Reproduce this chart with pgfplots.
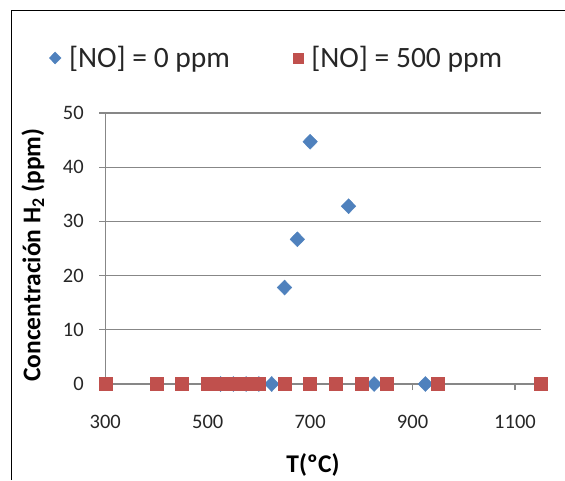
\documentclass[border=0pt]{standalone}
\usepackage{fontspec}
\setmainfont{Carlito}
\usepackage{pgfplots}
\pgfplotsset{compat=1.18}

\definecolor{serieA}{HTML}{4F81BD}
\definecolor{serieB}{HTML}{C0504D}
\definecolor{ejes}{HTML}{878787}

\begin{document}
\begin{tikzpicture}
  \begin{axis}[
    anchor=origin,
    scale only axis, width=435.3pt, height=271pt,
    xmin=300, xmax=1150, ymin=0, ymax=50,
    xtick={300,500,700,900,1100},
    ytick={0,10,20,30,40,50},
    axis x line=bottom, axis y line=left,
    axis line style={ejes, line width=1.4pt, -},
    tick style={ejes, line width=1.2pt},
    tick align=outside, major tick length=6pt,
    ymajorgrids, grid style={ejes, line width=1.2pt},
    clip=false,
    /pgf/number format/assume math mode=true,
    /pgf/number format/1000 sep={},
    ticklabel style={font=\fontsize{20.5}{24}\selectfont, text=black!85},
    xticklabel style={yshift=-22pt},
    yticklabel style={xshift=-12pt},
    xlabel={\textbf{T(ºC)}},
    ylabel={\textbf{Concentración H\textsubscript{2} (ppm)}},
    label style={font=\fontsize{25.5}{28}\selectfont},
    xlabel style={at={(axis description cs:0.477,-0.299)}, anchor=center},
    ylabel style={at={(axis description cs:-0.166,0.476)}, anchor=center},
    legend columns=2,
    legend style={draw=none, fill=none, inner sep=0pt,
      at={(axis description cs:-0.129,1.203)}, anchor=west,
      font=\fontsize{29.5}{32}\selectfont, text=black!85,
      /tikz/every odd column/.append style={column sep=6pt},
      /tikz/every even column/.append style={column sep=61pt}},
    legend cell align=left,
    legend image code/.code={\draw[#1, scale=0.8] plot coordinates {(0pt,0pt)};},
  ]
    \addplot[only marks, mark=diamond*, mark size=7.5pt,
             mark options={fill=serieA, draw=serieA, xscale=1.3}]
      coordinates {(525,0) (550,0) (575,0) (600,0) (625,0) (650,17.8) (675,26.7)
                   (700,44.7) (775,32.8) (825,0) (925,0)};
    \addlegendentry{[NO] = 0 ppm}
    \addplot[only marks, mark=square*, mark size=6.5pt,
             mark options={fill=serieB, draw=serieB}]
      coordinates {(300,0) (400,0) (450,0) (500,0) (525,0) (550,0) (575,0) (600,0)
                   (650,0) (700,0) (750,0) (800,0) (850,0) (950,0) (1150,0)};
    \addlegendentry{[NO] = 500 ppm}
  \end{axis}
  % axis area lower-left corner sits at the origin; page spans 565pt x 480pt
  \draw[black, line width=1.8pt] (-93.8pt,-96pt) -- (-93.8pt,373.5pt) -- (459.7pt,373.5pt);
  \pgfresetboundingbox
  \useasboundingbox (-105.3pt,-96pt) rectangle (459.7pt,384pt);
\end{tikzpicture}
\end{document}
